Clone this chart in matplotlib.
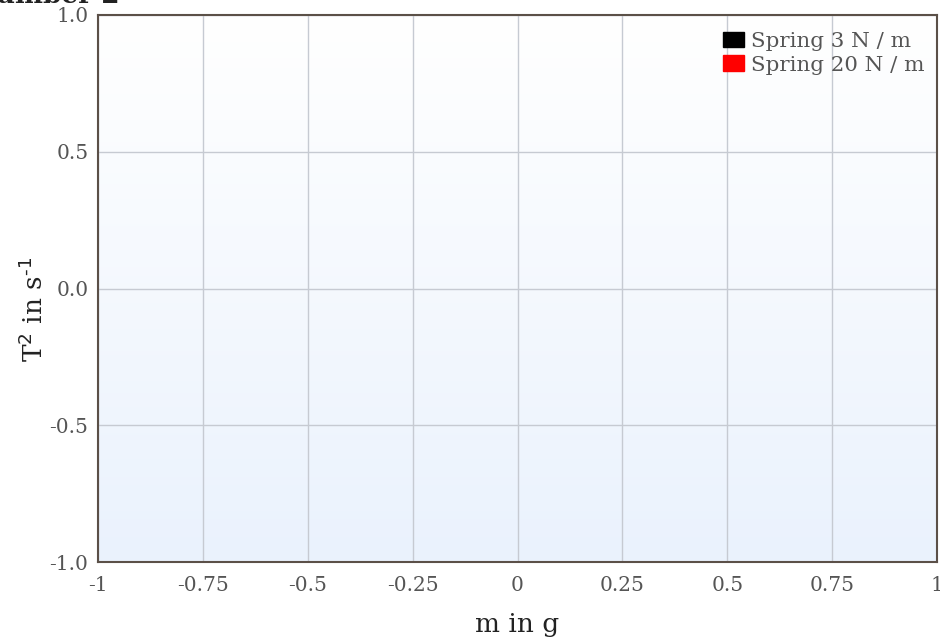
import numpy as np
import matplotlib
matplotlib.use('Agg')
import matplotlib.pyplot as plt
from matplotlib.patches import Patch

plt.rcParams['font.family'] = ['DejaVu Serif']

# series shown in the legend (no measurements entered yet)
series_names = ['Spring 3 N / m', 'Spring 20 N / m']
series_colors = ['#000000', '#ff0000']
series_mass = [[], []]
series_t2 = [[], []]

x_ticks = [-1, -0.75, -0.5, -0.25, 0, 0.25, 0.5, 0.75, 1]
x_tick_labels = ['-1', '-0.75', '-0.5', '-0.25', '0', '0.25', '0.5', '0.75', '1']
y_ticks = [-1.0, -0.5, 0.0, 0.5, 1.0]
y_tick_labels = ['-1.0', '-0.5', '0.0', '0.5', '1.0']

fig = plt.figure(figsize=(9.4, 6.41), dpi=100)
ax = fig.add_axes([98 / 940, 1 - 562 / 641, (937 - 98) / 940, (562 - 15) / 641])

# soft white-to-blue backdrop inside the plot area
grad = np.linspace(0, 1, 256).reshape(-1, 1)
top = np.array([1.0, 1.0, 1.0])
bottom = np.array([0.918, 0.949, 0.992])
img = top + (bottom - top) * grad[..., None]
ax.imshow(img, extent=[0, 1, 0, 1], transform=ax.transAxes, aspect='auto', zorder=0)

for xs, ys, name, col in zip(series_mass, series_t2, series_names, series_colors):
    ax.plot(xs, ys, 'o-', color=col, label=name)

ax.set_xlim(-1, 1)
ax.set_ylim(-1, 1)
ax.set_xticks(x_ticks)
ax.set_xticklabels(x_tick_labels)
ax.set_yticks(y_ticks)
ax.set_yticklabels(y_tick_labels)
ax.tick_params(length=0, labelsize=14.5, labelcolor='#555555')
ax.tick_params(axis='x', pad=10)
ax.tick_params(axis='y', pad=7)
ax.grid(True, color='#c6cad2', linewidth=1.0)
ax.set_axisbelow(True)
for sp in ax.spines.values():
    sp.set_color('#5b5048')
    sp.set_linewidth(1.5)

ax.set_xlabel('m in g', fontsize=19, color='#222222', labelpad=12)
ax.set_ylabel('T$^2$ in s$^{\\text{-}1}$', fontsize=19, color='#222222')
ax.yaxis.set_label_coords(-0.060, 0.4625)

handles = [Patch(facecolor=c, edgecolor=c, label=n) for n, c in zip(series_names, series_colors)]
leg = ax.legend(handles=handles, loc='upper right', bbox_to_anchor=(1.0, 0.993),
                frameon=False, fontsize=15.4,
                handlelength=1.0, handleheight=0.75, handletextpad=0.3,
                labelspacing=0.2, borderaxespad=0.2)
for t in leg.get_texts():
    t.set_color('#555555')

# chart title sits mostly above the canvas edge
fig.text(120 / 940, 1 - 3 / 641, 'Number 2', fontsize=19, fontweight='bold', color='#222222',
         ha='right', va='baseline')

fig.savefig('out.png', dpi=100)
